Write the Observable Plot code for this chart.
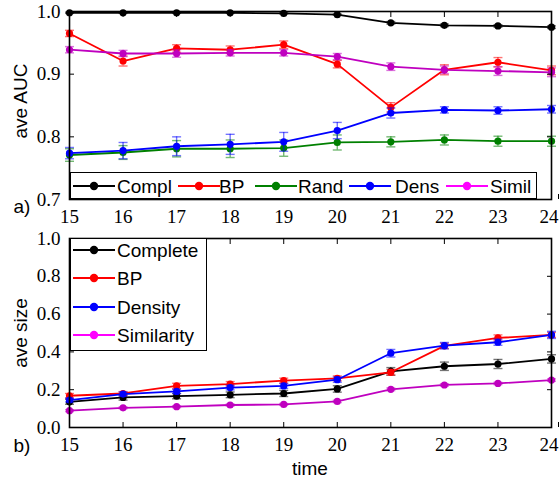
<!DOCTYPE html>
<html>
<head>
<meta charset="utf-8">
<script src="https://cdn.jsdelivr.net/npm/d3@7"></script>
<script src="https://cdn.jsdelivr.net/npm/@observablehq/plot@0.6"></script>
<style>
  body { margin: 0; background: #fff; }
  #chart { position: relative; width: 559px; height: 484px; overflow: hidden; background: #fff; }
  #chart svg.plot { display: block; }
  .lbl { position: absolute; font-family: "Liberation Sans", Arial, sans-serif; font-size: 19px;
         color: #000; white-space: nowrap; line-height: 1; }
  .legend-box { position: absolute; border: 1.5px solid #000; background: #fff; box-sizing: border-box; }
  .key { position: absolute; display: block; }
</style>
</head>
<body>
<div id="chart"></div>
<script>
// time steps shared by both panels
const times = [15, 16, 17, 18, 19, 20, 21, 22, 23, 24];

// panel a) average AUC with error
const complAUC    = [0.998, 0.998, 0.998, 0.998, 0.997, 0.995, 0.982, 0.978, 0.977, 0.975];
const complAUCErr = [0.001, 0.001, 0.001, 0.001, 0.001, 0.001, 0.002, 0.002, 0.002, 0.002];
const bpAUC       = [0.965, 0.921, 0.941, 0.939, 0.947, 0.916, 0.847, 0.907, 0.919, 0.906];
const bpAUCErr    = [0.005, 0.008, 0.006, 0.006, 0.006, 0.006, 0.0075, 0.008, 0.0075, 0.007];
const randAUC     = [0.771, 0.775, 0.781, 0.781, 0.782, 0.791, 0.792, 0.795, 0.793, 0.793];
const randAUCErr  = [0.010, 0.011, 0.013, 0.014, 0.013, 0.012, 0.008, 0.008, 0.008, 0.008];
const densAUC     = [0.774, 0.778, 0.785, 0.788, 0.792, 0.810, 0.838, 0.843, 0.842, 0.844];
const densAUCErr  = [0.009, 0.013, 0.015, 0.016, 0.015, 0.013, 0.008, 0.005, 0.006, 0.006];
const similAUC    = [0.939, 0.933, 0.933, 0.934, 0.934, 0.928, 0.912, 0.907, 0.905, 0.903];
const similAUCErr = [0.005, 0.005, 0.006, 0.005, 0.005, 0.005, 0.006, 0.006, 0.007, 0.007];

// panel b) average size with error
const complSize     = [0.136, 0.159, 0.166, 0.173, 0.180, 0.204, 0.297, 0.324, 0.336, 0.363];
const complSizeErr  = [0.013, 0.014, 0.014, 0.015, 0.016, 0.017, 0.020, 0.022, 0.024, 0.022];
const bpSize        = [0.168, 0.180, 0.220, 0.230, 0.248, 0.260, 0.292, 0.432, 0.474, 0.490];
const bpSizeErr     = [0.012, 0.010, 0.014, 0.013, 0.013, 0.013, 0.015, 0.014, 0.016, 0.013];
const densSize      = [0.145, 0.177, 0.191, 0.211, 0.220, 0.253, 0.393, 0.433, 0.451, 0.490];
const densSizeErr   = [0.010, 0.011, 0.011, 0.012, 0.013, 0.014, 0.020, 0.017, 0.016, 0.019];
const similSize     = [0.089, 0.104, 0.110, 0.119, 0.122, 0.138, 0.202, 0.225, 0.233, 0.251];
const similSizeErr  = [0.005, 0.005, 0.005, 0.005, 0.005, 0.006, 0.007, 0.006, 0.006, 0.006];

// axis ticks
const aucTicks = [0.7, 0.8, 0.9, 1.0];
const sizeTicks = [0.0, 0.2, 0.4, 0.6, 0.8, 1.0];

// legend labels
const aucNames  = ["Compl", "BP", "Rand", "Dens", "Simil"];
const sizeNames = ["Complete", "BP", "Density", "Similarity"];

const BLACK = "#000000", RED = "#ff0000", GREEN = "#008000", BLUE = "#0000ff", MAGENTA = "#bf00bf";
const MAGENTA_KEY = "#ff00ff";
const SERIF = "Liberation Serif, Times New Roman, serif";

const rowsOf = (vals, errs) => times.map((t, i) => ({t, v: vals[i], e: errs[i]}));

// horizontal error-bar cap
const cap = { draw(ctx) { ctx.moveTo(-4.5, 0); ctx.lineTo(4.5, 0); } };

function seriesMarks(rows, color) {
  const bar = {stroke: color, strokeOpacity: 0.55, strokeWidth: 1.4};
  return [
    Plot.ruleX(rows, {x: "t", y1: d => d.v - d.e, y2: d => d.v + d.e, ...bar}),
    Plot.dot(rows, {x: "t", y: d => d.v - d.e, symbol: cap, r: 4, ...bar}),
    Plot.dot(rows, {x: "t", y: d => d.v + d.e, symbol: cap, r: 4, ...bar}),
    Plot.line(rows, {x: "t", y: "v", stroke: color, strokeWidth: 1.8}),
    Plot.dot(rows, {x: "t", y: "v", fill: color, r: 3.6})
  ];
}

function frameAxes(yTicks) {
  const font = {fontFamily: SERIF, fontSize: 19};
  const inner = times.slice(0, -1), last = times.slice(-1);
  return [
    Plot.frame({stroke: "#000", strokeWidth: 1.6}),
    Plot.axisX(inner, {anchor: "bottom", tickSize: -5, tickPadding: 15, tickFormat: d => String(d), label: null, ...font}),
    // the right-most label is end-anchored so it stays inside the page
    Plot.axisX(last, {anchor: "bottom", tickSize: -5, tickPadding: 15, tickFormat: d => String(d), label: null,
                      textAnchor: "end", dx: 7, ...font}),
    Plot.axisX(times, {anchor: "top", tickSize: -5, tickFormat: () => "", label: null}),
    Plot.axisY(yTicks, {anchor: "left", tickSize: -5, tickPadding: 14, tickFormat: d => d.toFixed(1), label: null, ...font}),
    Plot.axisY(yTicks, {anchor: "right", tickSize: -5, tickFormat: () => "", label: null})
  ];
}

const common = {
  width: 559,
  marginLeft: 69,
  marginRight: 8,
  x: {domain: [15, 24]},
  style: {fontFamily: SERIF, fontSize: "19px", color: "#000", background: "#fff", overflow: "visible"}
};

const plotA = Plot.plot({
  ...common,
  height: 228,
  marginTop: 11,
  marginBottom: 29,
  y: {domain: [0.7, 1.0]},
  marks: [
    ...seriesMarks(rowsOf(complAUC, complAUCErr), BLACK),
    ...seriesMarks(rowsOf(bpAUC, bpAUCErr), RED),
    ...seriesMarks(rowsOf(randAUC, randAUCErr), GREEN),
    ...seriesMarks(rowsOf(densAUC, densAUCErr), BLUE),
    ...seriesMarks(rowsOf(similAUC, similAUCErr), MAGENTA),
    ...frameAxes(aucTicks)
  ]
});

const plotB = Plot.plot({
  ...common,
  height: 256,
  marginTop: 10,
  marginBottom: 57,
  y: {domain: [0, 1.0]},
  marks: [
    ...seriesMarks(rowsOf(complSize, complSizeErr), BLACK),
    ...seriesMarks(rowsOf(bpSize, bpSizeErr), RED),
    ...seriesMarks(rowsOf(densSize, densSizeErr), BLUE),
    ...seriesMarks(rowsOf(similSize, similSizeErr), MAGENTA),
    ...frameAxes(sizeTicks)
  ]
});

const chart = document.getElementById("chart");
plotA.classList.add("plot");
plotB.classList.add("plot");
chart.append(plotA, plotB);

// text labels around the panels
function label(text, left, top, rotate) {
  const el = document.createElement("div");
  el.className = "lbl";
  el.textContent = text;
  el.style.left = left + "px";
  el.style.top = top + "px";
  el.style.transform = `translate(-50%, -50%)${rotate ? " rotate(-90deg)" : ""}`;
  chart.append(el);
}
label("ave AUC", 20, 101, true);
label("ave size", 20, 333, true);
label("time", 310, 468, false);
label("a)", 22, 206, false);
label("b)", 22, 445, false);

// legends drawn inside the panels
function legendBox(left, top, right, bottom) {
  const box = document.createElement("div");
  box.className = "legend-box";
  Object.assign(box.style, {left: left + "px", top: top + "px", width: (right - left) + "px", height: (bottom - top) + "px"});
  chart.append(box);
}
function legendKey(name, color, cx, cy, textX) {
  const ns = "http://www.w3.org/2000/svg";
  const svg = document.createElementNS(ns, "svg");
  svg.setAttribute("class", "key");
  svg.setAttribute("width", 44);
  svg.setAttribute("height", 12);
  svg.style.position = "absolute";
  svg.style.left = (cx - 22) + "px";
  svg.style.top = (cy - 6) + "px";
  const ln = document.createElementNS(ns, "line");
  Object.entries({x1: 1, x2: 43, y1: 6, y2: 6, stroke: color, "stroke-width": 1.8}).forEach(([k, v]) => ln.setAttribute(k, v));
  const c = document.createElementNS(ns, "circle");
  Object.entries({cx: 22, cy: 6, r: 4.2, fill: color}).forEach(([k, v]) => c.setAttribute(k, v));
  svg.append(ln, c);
  chart.append(svg);
  const t = document.createElement("div");
  t.className = "lbl";
  t.textContent = name;
  t.style.left = textX + "px";
  t.style.top = cy + "px";
  t.style.transform = "translateY(-50%)";
  chart.append(t);
}

legendBox(70, 172, 537, 199);
const aucColors = [BLACK, RED, GREEN, BLUE, MAGENTA_KEY];
const aucKeyX = [94, 199, 276, 370, 467];
const aucTextX = [117, 219, 298, 395, 490];
aucNames.forEach((n, i) => legendKey(n, aucColors[i], aucKeyX[i], 185.5, aucTextX[i]));

legendBox(70, 238, 207, 351);
const sizeColors = [BLACK, RED, BLUE, MAGENTA_KEY];
const sizeKeyY = [250, 278, 306.5, 335];
sizeNames.forEach((n, i) => legendKey(n, sizeColors[i], 94, sizeKeyY[i], 117));
</script>
</body>
</html>
